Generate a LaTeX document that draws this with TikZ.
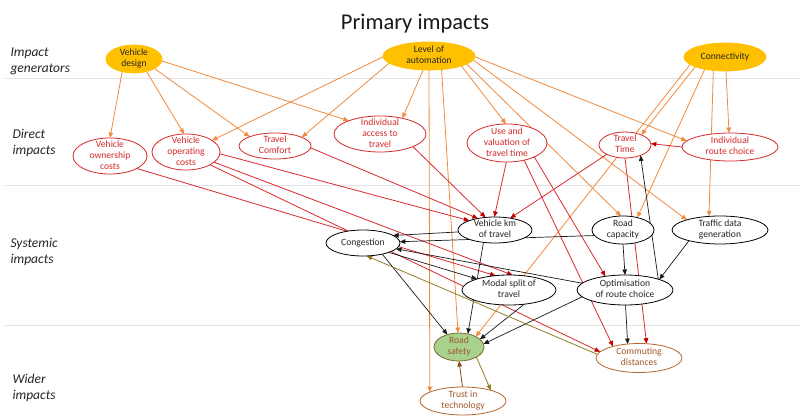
\documentclass[tikz,border=0pt]{standalone}
\usepackage{fontspec}
\setmainfont{Carlito}
\usetikzlibrary{shapes.geometric,arrows.meta,backgrounds}
\definecolor{gold}{HTML}{FFC000}
\definecolor{corange}{HTML}{F28A3C}
\definecolor{cred}{HTML}{DA2A30}
\definecolor{cdred}{HTML}{C00000}
\definecolor{cnred}{HTML}{D42A2A}
\definecolor{colive}{HTML}{957B22}
\definecolor{cbrown}{HTML}{8B4513}
\definecolor{cwid}{HTML}{B5652C}
\definecolor{cwtxt}{HTML}{A0582A}
\definecolor{cgreen}{HTML}{A9D18E}
\definecolor{cgreenl}{HTML}{7A6A2C}
\definecolor{csep}{HTML}{E4E4E4}
\newcommand\tl[1]{\raisebox{-2.4pt}[0pt][0pt]{\makebox[0pt]{\begin{tabular}{@{}c@{}}#1\end{tabular}}}}
\begin{document}
\begin{tikzpicture}[x=1pt,y=-1pt,
  nd/.style={ellipse, inner sep=0pt, outer sep=0pt, font=\fontsize{9.6}{11}\selectfont, line width=0.8pt},
  sz/.style 2 args={minimum width=#1pt, minimum height=#2pt},
  gen/.style={nd, fill=gold, draw=gold, text=black!85},
  dir/.style={nd, fill=white, draw=cnred, text=cnred},
  sys/.style={nd, fill=white, draw=black, text=black!85},
  wid/.style={nd, fill=white, draw=cwid, text=cwtxt},
  safe/.style={nd, fill=cgreen, draw=cgreenl, text=cwtxt},
  oarr/.style={draw=corange, line width=0.8pt, -{Triangle[length=5.5pt,width=4.5pt]}},
  rarr/.style={draw=cred, line width=0.8pt, -{Triangle[length=5.5pt,width=4.5pt,color=cdred]}},
  barr/.style={draw=black!90, line width=0.7pt, -{Triangle[length=5.5pt,width=4.5pt]}},
  olarr/.style={draw=colive, line width=0.8pt, -{Triangle[length=5.5pt,width=4.5pt]}},
  brarr/.style={draw=cbrown, line width=0.8pt, -{Triangle[length=5.5pt,width=4.5pt]}},
  rowlbl/.style={anchor=west, align=left, font=\itshape\fontsize{13.5}{16}\selectfont, text=black!85},
  sepline/.style={draw=csep, line width=0.8pt}
]
\useasboundingbox (0,0) rectangle (800,417);

% title and row labels
\node[font=\fontsize{22.5}{26}\selectfont, anchor=base, text=black!90] (title) at (415,30) {Primary impacts};
\node[rowlbl] (lgen) at (7,61) {Impact\\generators};
\node[rowlbl] (ldir) at (9,143) {Direct\\impacts};
\node[rowlbl] (lsys) at (7,252) {Systemic\\impacts};
\node[rowlbl] (lwid) at (9,388) {Wider\\impacts};

% impact generators
\node[gen, sz={56}{28}] (VD) at (134,59) {\tl{Vehicle\\design}};
\node[gen, sz={92}{28}] (LoA) at (429,56) {\tl{Level of\\automation}};
\node[gen, sz={82}{28}] (Conn) at (725,57) {\tl{Connectivity}};

% direct impacts
\node[dir, sz={74}{36}] (VOwn) at (110,156) {\tl{Vehicle\\ownership\\costs}};
\node[dir, sz={68}{36}] (VOC) at (186,152) {\tl{Vehicle\\operating\\costs}};
\node[dir, sz={72}{26}] (TC) at (275,146) {\tl{Travel\\Comfort}};
\node[dir, sz={92}{36}] (IA) at (380,134) {\tl{Individual\\access to\\travel}};
\node[dir, sz={80}{38}] (UV) at (507,143) {\tl{Use and\\valuation of\\travel time}};
\node[dir, sz={52}{26}] (TT) at (625,145) {\tl{Travel\\Time}};
\node[dir, sz={96}{28}] (IRC) at (730,147) {\tl{Individual\\route choice}};

% systemic impacts
\node[sys, sz={74}{26}] (Vkm) at (495,230) {\tl{Vehicle km\\of travel}};
\node[sys, sz={62}{28}] (RC) at (623,230) {\tl{Road\\capacity}};
\node[sys, sz={96}{28}] (TDG) at (720,230) {\tl{Traffic data\\generation}};
\node[sys, sz={74}{26}] (Cong) at (363,243) {\tl{Congestion}};
\node[sys, sz={94}{30}] (MS) at (509,290) {\tl{Modal split of\\travel}};
\node[sys, sz={96}{30}] (Opt) at (625,290) {\tl{Optimisation\\of route choice}};

% wider impacts
\node[safe, sz={50}{28}] (RS) at (459,347) {\tl{Road\\safety}};
\node[wid, sz={86}{29}] (CD) at (639,358) {\tl{Commuting\\distances}};
\node[wid, sz={86}{28}] (TiT) at (463,401) {\tl{Trust in\\technology}};

\begin{scope}[on background layer]
\fill[white] (0,0) rectangle (800,417);
\coordinate (s1a) at (5,78);   \coordinate (s1b) at (800,78);
\coordinate (s2a) at (5,185);  \coordinate (s2b) at (800,185);
\coordinate (s3a) at (5,325);  \coordinate (s3b) at (800,325);
\draw[sepline] (s1a) -- (s1b);
\draw[sepline] (s2a) -- (s2b);
\draw[sepline] (s3a) -- (s3b);

% orange: generators
\draw[oarr] (VD.-133) -- (VOwn.90);
\draw[oarr] (VD.-45) -- (VOC.96);
\draw[oarr] (VD.-25) -- (TC.160);
\draw[oarr] (VD.-4) -- (IA.157);
\draw[oarr] (LoA.181) -- (VOC.24);
\draw[oarr] (LoA.-170) -- (TC.18);
\draw[oarr] (LoA.-113) -- (IA.35);
\draw[oarr] (LoA.-90) -- (TiT.165);
\draw[oarr] (LoA.-47) -- (RS.94);
\draw[oarr] (LoA.-17) -- (UV.93);
\draw[oarr] (LoA.-12) -- (RC.98);
\draw[oarr] (LoA.-5) -- (TDG.163);
\draw[oarr] (LoA.-1) -- (IRC.172);
\draw[oarr] (Conn.-168) -- (RS.32);
\draw[oarr] (Conn.-162) -- (TT.32);
\draw[oarr] (Conn.-149) -- (RC.41);
\draw[oarr] (Conn.-131) -- (TDG.129);
\draw[oarr] (Conn.-86) -- (IRC.94);

% red: direct impacts
\draw[rarr] (IRC.180) -- (TT.3);
\draw[rarr] (VOwn.-25) -- (MS.133);
\draw[rarr] (VOC.-28) -- (CD.171);
\draw[rarr] (VOC.-3) -- (Vkm.160);
\draw[rarr] (VOC.-20) -- (MS.77);
\draw[rarr] (TC.-3) -- (Vkm.146);
\draw[rarr] (IA.-21) -- (Vkm.127);
\draw[rarr] (UV.-92) -- (Vkm.93);
\draw[rarr] (TT.-153) -- (Vkm.38);
\draw[rarr] (UV.-27) -- (Opt.145);
\draw[rarr] (UV.-45) -- (CD.156);
\draw[rarr] (TT.-90) -- (CD.62);

% black: systemic impacts
\draw[barr] (Vkm.183) -- (Cong.14);
\draw[barr] (RC.-169) -- (Cong.2);
\draw[barr] (Opt.171) -- (Cong.-10);
\draw[barr] (Cong.-20) -- (MS.161);
\draw[barr] (Cong.-30) -- (RS.133);
\draw[barr] (Vkm.-133) -- (RS.56);
\draw[barr] (MS.-43) -- (RS.20);
\draw[barr] (Opt.-171) -- (RS.7);
\draw[barr] (RC.-90) -- (Opt.90);
\draw[barr] (TDG.-161) -- (Opt.17);
\draw[barr] (Opt.18) -- (TT.-34);
\draw[barr] (Opt.-88) -- (CD.129);

% olive / brown: wider impacts
\draw[olarr] (CD.175) -- (Cong.-74);
\draw[olarr] (RS.-30) -- (TiT.21);
\draw[brarr] (TiT.92) -- (RS.-90);
\end{scope}
\end{tikzpicture}
\end{document}
